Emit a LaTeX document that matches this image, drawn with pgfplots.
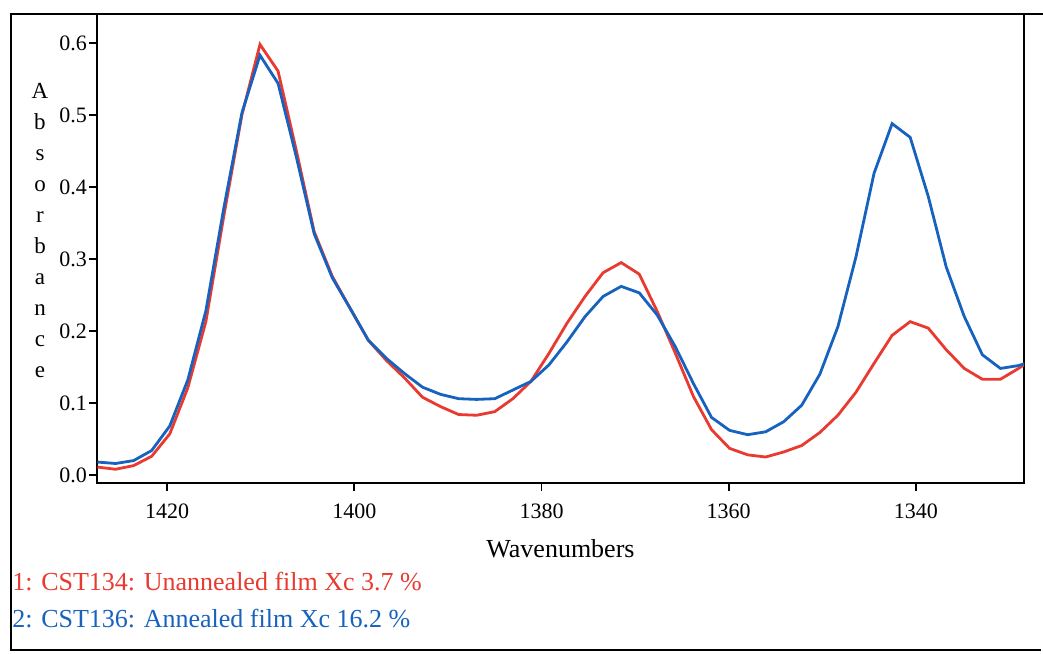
\documentclass[border=0pt]{standalone}
\usepackage{fontspec}
\setmainfont{Liberation Serif}
\usepackage{pgfplots}
\pgfplotsset{compat=1.18}
\definecolor{cred}{RGB}{232,58,48}
\definecolor{cblue}{RGB}{22,98,190}
\begin{document}
\begin{tikzpicture}
\useasboundingbox (-48.5pt,-85pt) rectangle (473pt,241.5pt);
\begin{axis}[
  at={(0,0)}, anchor=south west,
  scale only axis,
  width=463.5pt, height=234.5pt,
  x dir=reverse,
  xmin=1328.46, xmax=1427.48,
  ymin=-0.0111, ymax=0.6403,
  xtick={1420,1400,1380,1360,1340},
  ytick={0,0.1,0.2,0.3,0.4,0.5,0.6},
  xtick pos=bottom, ytick pos=left,
  tick align=outside,
  major tick length=4pt,
  axis line style={line width=1pt},
  tick style={line width=0.8pt, black},
  scaled ticks=false,
  /pgf/number format/assume math mode=true,
  yticklabel style={xshift=2.5pt, /pgf/number format/.cd, fixed, fixed zerofill, precision=1},
  xticklabel style={yshift=-3pt, /pgf/number format/.cd, fixed, 1000 sep={}},
  tick label style={font=\fontsize{11pt}{13pt}\selectfont},
  clip=true,
]
\addplot[cred, line width=1.4pt] coordinates {
(1427.43,0.011) (1425.50,0.008) (1423.57,0.013) (1421.64,0.026) (1419.71,0.057)
(1417.78,0.121) (1415.85,0.213) (1413.93,0.360) (1412.00,0.500) (1410.07,0.598)
(1408.14,0.561) (1406.21,0.452) (1404.28,0.338) (1402.35,0.276) (1400.42,0.231)
(1398.49,0.187) (1396.56,0.159) (1394.64,0.135) (1392.71,0.108) (1390.78,0.095)
(1388.85,0.084) (1386.92,0.083) (1384.99,0.088) (1383.06,0.106) (1381.13,0.130)
(1379.20,0.169) (1377.27,0.211) (1375.35,0.248) (1373.42,0.281) (1371.49,0.295)
(1369.56,0.279) (1367.63,0.227) (1365.70,0.169) (1363.77,0.109) (1361.84,0.063)
(1359.91,0.037) (1357.98,0.028) (1356.06,0.025) (1354.13,0.032) (1352.20,0.041)
(1350.27,0.059) (1348.34,0.083) (1346.41,0.115) (1344.48,0.155) (1342.55,0.194)
(1340.62,0.213) (1338.69,0.204) (1336.77,0.174) (1334.84,0.148) (1332.91,0.133)
(1330.98,0.133) (1329.05,0.148) (1327.12,0.165)
};
\addplot[cblue, line width=1.4pt] coordinates {
(1427.43,0.018) (1425.50,0.016) (1423.57,0.020) (1421.64,0.034) (1419.71,0.068)
(1417.78,0.132) (1415.85,0.228) (1413.93,0.371) (1412.00,0.503) (1410.07,0.583)
(1408.14,0.544) (1406.21,0.443) (1404.28,0.335) (1402.35,0.274) (1400.42,0.231)
(1398.49,0.187) (1396.56,0.162) (1394.64,0.141) (1392.71,0.122) (1390.78,0.112)
(1388.85,0.106) (1386.92,0.105) (1384.99,0.106) (1383.06,0.118) (1381.13,0.130)
(1379.20,0.153) (1377.27,0.185) (1375.35,0.220) (1373.42,0.248) (1371.49,0.262)
(1369.56,0.253) (1367.63,0.222) (1365.70,0.178) (1363.77,0.127) (1361.84,0.080)
(1359.91,0.062) (1357.98,0.056) (1356.06,0.060) (1354.13,0.074) (1352.20,0.097)
(1350.27,0.140) (1348.34,0.206) (1346.41,0.303) (1344.48,0.419) (1342.55,0.488)
(1340.62,0.469) (1338.69,0.387) (1336.77,0.289) (1334.84,0.220) (1332.91,0.167)
(1330.98,0.148) (1329.05,0.152) (1327.12,0.160)
};
\end{axis}
% outer frame
\draw[line width=1pt] (472pt,-83.5pt) -- (-43pt,-83.5pt) -- (-43pt,234.5pt) -- (473pt,234.5pt);
% y label (stacked letters); anchor=base refers to the last line
\node[anchor=base, inner sep=0pt, align=center, font=\fontsize{11.5pt}{15.55pt}\selectfont] at (-28.5pt,52.5pt) {A\\b\\s\\o\\r\\b\\a\\n\\c\\e};
% x label
\node[anchor=base, inner sep=0pt, font=\fontsize{13pt}{15pt}\selectfont] at (231.75pt,-37pt) {Wavenumbers};
% legend texts
\node[anchor=base west, inner sep=0pt, text=cred, font=\fontsize{13pt}{15pt}\selectfont] at (-42.5pt,-53.5pt) {1: CST134: Unannealed film Xc 3.7 \%};
\node[anchor=base west, inner sep=0pt, text=cblue, font=\fontsize{13pt}{15pt}\selectfont] at (-42.5pt,-72pt) {2: CST136: Annealed film Xc 16.2 \%};
\end{tikzpicture}
\end{document}
